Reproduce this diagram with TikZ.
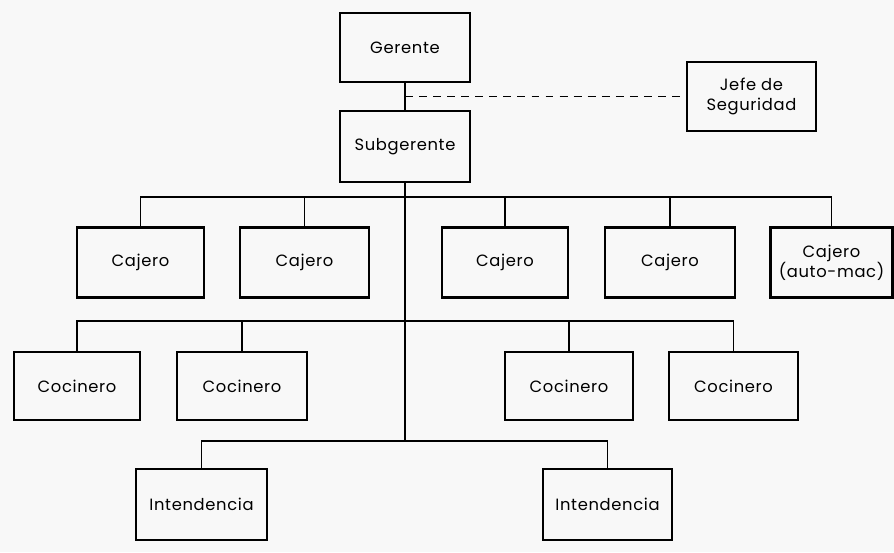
\documentclass[tikz,border=0pt]{standalone}
\usepackage{fontspec}
\setmainfont{Poppins}[LetterSpace=4]
\usepackage{tikz}
\usetikzlibrary{calc}
\definecolor{orgpaper}{RGB}{248,248,248}
\tikzstyle{puesto} = [rectangle, minimum width=2.56cm, minimum height=1.4cm, text centered, align=center, draw=black, fill=orgpaper, line width=1.3pt, inner sep=1pt, font=\fontsize{9.3}{11.5}\selectfont]
\tikzstyle{linea} = [line width=1pt, draw=black]
\tikzstyle{enlace} = [line width=1pt, draw=black, dash pattern=on 4.5pt off 3.5pt]

\begin{document}
\begin{tikzpicture}[x=0.02cm, y=-0.02cm]
\fill[orgpaper] (0,0) rectangle (894,552);
\useasboundingbox (0,0) rectangle (894,552);
% Direccion
\node[puesto, minimum width=2.6cm, minimum height=1.38cm] (ger) at (405,47.5) {Gerente};
\node[puesto, minimum width=2.6cm, minimum height=1.42cm] (sub) at (405,146.5) {Subgerente};
\node[puesto, minimum width=2.58cm, minimum height=1.38cm] (jefe) at (751.5,96.5) {Jefe de\\Seguridad};

% Cajeros
\node[puesto, minimum width=2.54cm] (caj1) at (140.5,262.5) {Cajero};
\node[puesto, minimum width=2.58cm] (caj2) at (304.5,262.5) {Cajero};
\node[puesto, minimum width=2.52cm] (caj3) at (505,262.5) {Cajero};
\node[puesto, minimum width=2.6cm] (caj4) at (670,262.5) {Cajero};
\node[puesto, minimum width=2.44cm] (caj5) at (831.5,262.5) {Cajero\\(auto-mac)};

% Cocineros
\node[puesto, minimum width=2.52cm, minimum height=1.36cm] (coc1) at (77,386) {Cocinero};
\node[puesto, minimum width=2.6cm, minimum height=1.36cm] (coc2) at (242,386) {Cocinero};
\node[puesto, minimum width=2.56cm, minimum height=1.36cm] (coc3) at (569,386) {Cocinero};
\node[puesto, minimum width=2.58cm, minimum height=1.36cm] (coc4) at (733.5,386) {Cocinero};

% Intendencia
\node[puesto, minimum width=2.62cm, minimum height=1.42cm] (int1) at (201.5,504.5) {Intendencia};
\node[puesto, minimum width=2.58cm, minimum height=1.42cm] (int2) at (607.5,504.5) {Intendencia};

% Lineas de mando
\coordinate (rowcaj) at (405,197);
\coordinate (rowcoc) at (405,321);
\coordinate (rowint) at (405,441);
\draw[linea] (ger.south) -- (sub.north);
\draw[enlace] (ger.south |- jefe.west) -- (jefe.west);
\draw[linea] (sub.south) -- (rowint);
\draw[linea] (caj1.north) |- (rowcaj) -| (caj5.north);
\foreach \n in {caj2,caj3,caj4}
  \draw[linea] (\n.north) -- (\n.north |- rowcaj);
\draw[linea] (coc1.north) |- (rowcoc) -| (coc4.north);
\foreach \n in {coc2,coc3}
  \draw[linea] (\n.north) -- (\n.north |- rowcoc);
\draw[linea] (int1.north) |- (rowint) -| (int2.north);
\end{tikzpicture}
\end{document}
